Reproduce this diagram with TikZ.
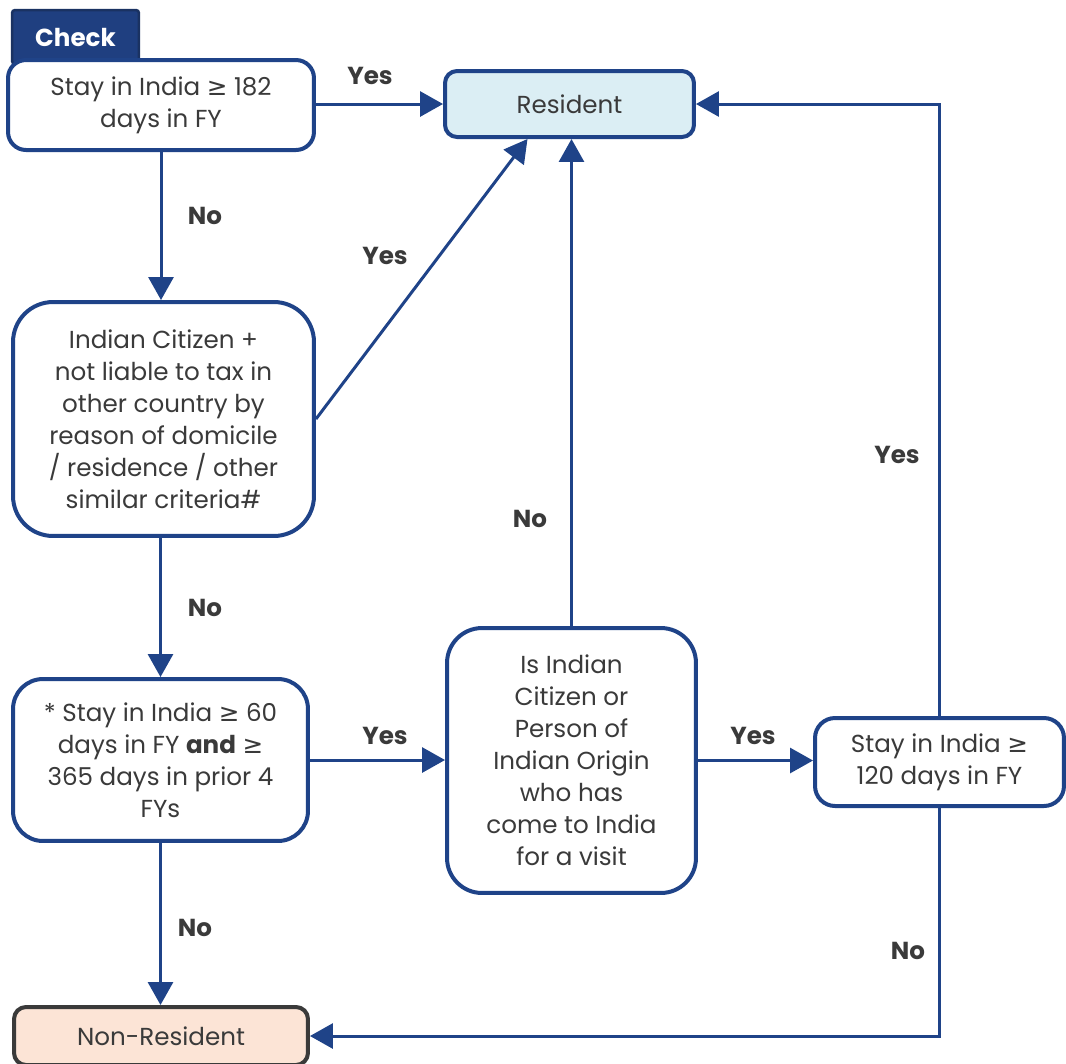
\documentclass[tikz,border=0pt]{standalone}
\usepackage{fontspec}
\setmainfont{Poppins}
\newfontfamily\dejavu{DejaVu Sans}
\usetikzlibrary{arrows.meta,calc}
\definecolor{flowblue}{HTML}{1F4388}
\definecolor{tabblue}{HTML}{1F3F80}
\definecolor{tabedge}{HTML}{1A3262}
\definecolor{textgray}{HTML}{3A3A3A}
\definecolor{resfill}{HTML}{DBEEF4}
\definecolor{nonresfill}{HTML}{FCE4D6}
\newcommand{\atleast}{{\dejavu ≥}}

\begin{document}
\begin{tikzpicture}[x=0.02cm, y=-0.02cm,
  every node/.style={text=textgray, font=\fontsize{14}{18.2}\selectfont},
  box/.style={draw=flowblue, line width=0.08cm, fill=white, align=center, inner sep=0pt},
  arr/.style={draw=flowblue, line width=0.06cm, -{Triangle[length=0.46cm, width=0.5cm]}},
  lbl/.style={font=\fontsize{14}{18.2}\selectfont\bfseries}]

\useasboundingbox (0,0) rectangle (1066,1063);

% residential status flow

\node[draw=tabedge, line width=0.05cm, fill=tabblue, rounded corners=0.06cm,
      minimum width=2.54cm, minimum height=1.08cm, text=white,
      font=\fontsize{14}{18.2}\selectfont\bfseries] (check) at (75.5,37) {Check};

\node[box, rounded corners=0.36cm, minimum width=6.12cm, minimum height=1.8cm]
  (stay182) at (161,105) {Stay in India \atleast{} 182\\days in FY};
\node[box, fill=resfill, rounded corners=0.24cm, minimum width=4.98cm, minimum height=1.32cm]
  (resident) at (569.5,104) {Resident};
\node[box, rounded corners=0.8cm, minimum width=6.02cm, minimum height=4.68cm]
  (citizen) at (163.5,419) {Indian Citizen +\\not liable to tax in\\other country by\\reason of domicile\\/ residence / other\\similar criteria\#};
\node[box, rounded corners=0.6cm, minimum width=5.9cm, minimum height=3.24cm]
  (prior) at (160.5,760) {* Stay in India \atleast{} 60\\days in FY \textbf{and} \atleast\\365 days in prior 4\\FYs};
\node[box, rounded corners=0.7cm, minimum width=4.98cm, minimum height=5.3cm]
  (visit) at (571.5,760.5) {Is Indian\\Citizen or\\Person of\\Indian Origin\\who has\\come to India\\for a visit};
\node[box, rounded corners=0.4cm, minimum width=4.98cm, minimum height=1.76cm]
  (stay120) at (939.5,762) {Stay in India \atleast\\120 days in FY};
\node[box, draw=textgray, fill=nonresfill, rounded corners=0.24cm, minimum width=5.88cm, minimum height=1.16cm]
  (nonres) at (161,1036) {Non-Resident};

\draw[arr] (stay182.east |- resident.west) -- (resident.west);
\draw[arr] (stay182.south) -- (stay182.south |- citizen.north);
\draw[arr] (citizen.east) -- ($(resident.south)+(-42,0)$);
\draw[arr] (prior.north |- citizen.south) -- (prior.north);
\draw[arr] (prior.east) -- (prior.east -| visit.west);
\draw[arr] (visit.north) -- (visit.north |- resident.south);
\draw[arr] (visit.east) -- (visit.east -| stay120.west);
\draw[arr] (stay120.north) |- (resident.east);
\draw[arr] (stay120.south) |- (nonres.east);
\draw[arr] (prior.south) -- (prior.south |- nonres.north);

\node[lbl] (yes1) at (370,76) {Yes};
\node[lbl] (no1) at (205,216) {No};
\node[lbl] (yes2) at (385,256) {Yes};
\node[lbl] (no2) at (205,608) {No};
\node[lbl] (yes3) at (385,736) {Yes};
\node[lbl] (no3) at (530,519) {No};
\node[lbl] (yes4) at (753,736) {Yes};
\node[lbl] (yes5) at (897,455) {Yes};
\node[lbl] (no4) at (908,951) {No};
\node[lbl] (no5) at (195,928) {No};

\end{tikzpicture}
\end{document}
